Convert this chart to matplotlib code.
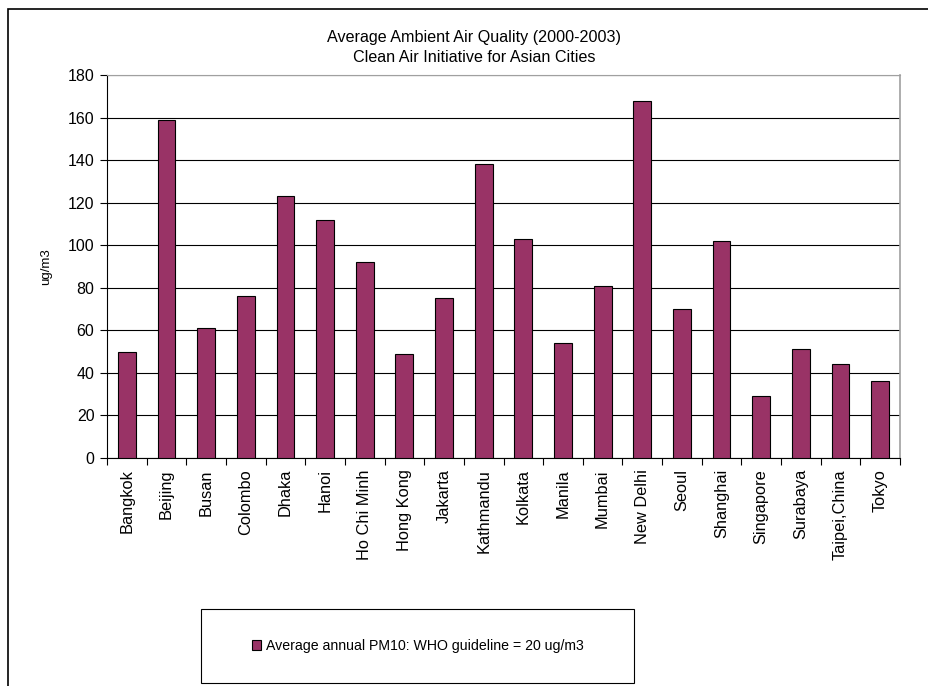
import numpy as np
import matplotlib.pyplot as plt
from matplotlib.patches import Rectangle

plt.rcParams['font.family'] = ['Liberation Sans', 'DejaVu Sans']

cities = ['Bangkok', 'Beijing', 'Busan', 'Colombo', 'Dhaka', 'Hanoi', 'Ho Chi Minh',
          'Hong Kong', 'Jakarta', 'Kathmandu', 'Kolkata', 'Manila', 'Mumbai',
          'New Delhi', 'Seoul', 'Shanghai', 'Singapore', 'Surabaya', 'Taipei,China', 'Tokyo']
pm10 = [50, 159, 61, 76, 123, 112, 92, 49, 75, 138, 103, 54, 81, 168, 70, 102, 29, 51, 44, 36]
yticks = np.arange(0, 181, 20)

W, H = 929, 686
fig = plt.figure(figsize=(W / 100, H / 100), dpi=100)

# outer chart frame
fig.patches.append(Rectangle((8 / W, -0.05), 1.0, 1 - 9.5 / H + 0.05, transform=fig.transFigure,
                             fill=False, edgecolor='black', linewidth=1.2))

ax = fig.add_axes([107 / W, 1 - 458 / H, (900 - 107) / W, (458 - 75) / H])
x = np.arange(len(cities))
ax.bar(x, pm10, width=0.45, color='#993366', edgecolor='black', linewidth=0.8, zorder=3,
       label='Average annual PM10: WHO guideline = 20 ug/m3')

ax.set_xlim(-0.5, len(cities) - 0.5)
ax.set_ylim(0, 180)
ax.set_yticks(yticks)
ax.yaxis.grid(True, color='black', linewidth=0.8)
ax.set_axisbelow(True)

ax.set_xticks(x)
ax.set_xticklabels(cities, rotation=90, fontsize=11.8)
ax.set_xticks(np.arange(-0.5, len(cities)), minor=True)
ax.tick_params(axis='x', which='major', length=0, pad=8)
ax.tick_params(axis='x', which='minor', length=5, direction='out', width=0.8)
ax.tick_params(axis='y', length=5, direction='out', width=0.8, labelsize=11.5, pad=4)

ax.spines['top'].set_color('#a0a0a0')
ax.spines['right'].set_color('#a0a0a0')
ax.spines['right'].set_linewidth(1.2)

ax.set_ylabel('ug/m3', fontsize=9.5, labelpad=11)
fig.text(474 / W, 1 - 47.5 / H, 'Average Ambient Air Quality (2000-2003)\nClean Air Initiative for Asian Cities',
         ha='center', va='center', fontsize=11.6, linespacing=1.45)

# legend box
fig.patches.append(Rectangle((201 / W, 1 - 683 / H), (634 - 201) / W, (683 - 609) / H,
                             transform=fig.transFigure, fill=False, edgecolor='black', linewidth=0.8))
fig.legend(loc='center', bbox_to_anchor=(417.5 / W, 1 - 646 / H), frameon=False, fontsize=10.2,
           handlelength=0.7, handleheight=0.7, handletextpad=0.3)

fig.savefig('out.png', dpi=100)
